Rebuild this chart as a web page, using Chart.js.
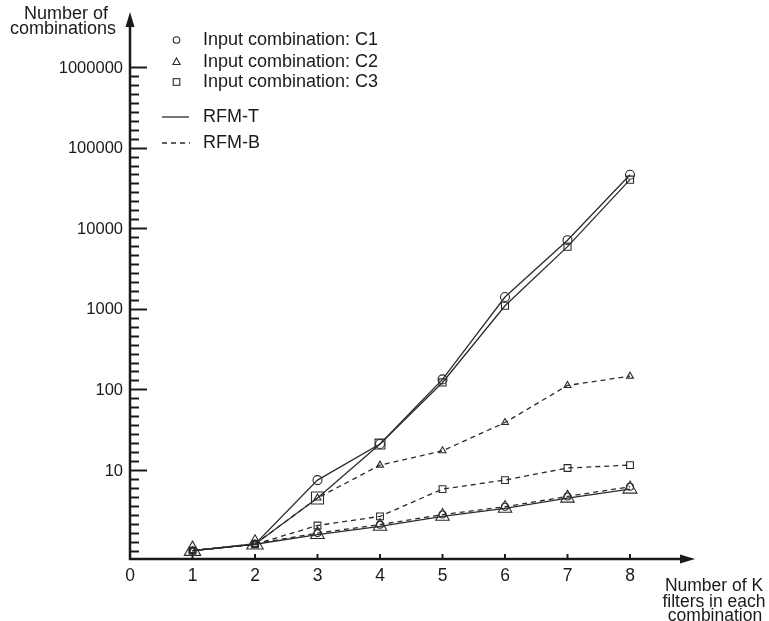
<!DOCTYPE html>
<html lang="en">
<head>
    <meta charset="UTF-8">
    <title>Number of combinations</title>
    <script src="https://cdn.jsdelivr.net/npm/chart.js"></script>
    <style>
        html, body { margin: 0; padding: 0; background: #fff; }
        #wrap { width: 769px; height: 621px; position: relative; }
    </style>
</head>
<body>
<div id="wrap"><canvas id="chart"></canvas></div>
<script>
    // data
    const kValues = [1, 2, 3, 4, 5, 6, 7, 8];
    const c1T = [1, 1.2, 7.5, 21, 133, 1400, 7100, 46000];
    const c2T = [1, 1.2, 1.58, 2.0, 2.66, 3.35, 4.47, 5.8];
    const c3T = [1, 1.2, 4.5, 21, 122, 1090, 5900, 40000];
    const c1B = [1, 1.22, 1.65, 2.1, 2.8, 3.5, 4.7, 6.2];
    const c2B = [1, 1.2, 4.5, 11.5, 17.3, 38.8, 112, 146];
    const c3B = [1, 1.2, 2.05, 2.66, 5.8, 7.5, 10.6, 11.5];

    const xTickLabels = ['0', '1', '2', '3', '4', '5', '6', '7', '8'];
    const yTickLabels = ['10', '100', '1000', '10000', '100000', '1000000'];
    const legendMarkers = ['Input combination: C1', 'Input combination: C2', 'Input combination: C3'];
    const legendLines = ['RFM-T', 'RFM-B'];

    const INK = '#2b2b2b';
    const FONT = '"Liberation Sans", Arial, sans-serif';

    function pts(arr) {
        return kValues.map((k, i) => ({ x: k, y: arr[i] }));
    }

    function series(label, arr, style, radius, dashed) {
        return {
            label: label,
            data: pts(arr),
            borderColor: INK,
            borderWidth: 1.3,
            borderDash: dashed ? [5, 4] : [],
            pointStyle: style,
            pointRadius: radius,
            pointBorderColor: INK,
            pointBorderWidth: 1.1,
            pointBackgroundColor: 'rgba(0,0,0,0)',
            fill: false,
            tension: 0
        };
    }

    const axesPlugin = {
        id: 'axes',
        beforeDatasetsDraw(chart) {
            const ctx = chart.ctx;
            const a = chart.chartArea;
            const x = chart.scales.x, y = chart.scales.y;
            const x0 = x.getPixelForValue(0);
            const yb = a.bottom;
            ctx.save();
            ctx.strokeStyle = '#1a1a1a';
            ctx.fillStyle = '#1a1a1a';

            // axis lines
            ctx.lineWidth = 2.5;
            ctx.beginPath();
            ctx.moveTo(x0, yb + 1);
            ctx.lineTo(x0, a.top + 12);
            ctx.moveTo(x0 - 1, yb);
            ctx.lineTo(a.right - 12, yb);
            ctx.stroke();

            // arrow heads
            ctx.beginPath();
            ctx.moveTo(x0, a.top);
            ctx.lineTo(x0 - 4.5, a.top + 15);
            ctx.lineTo(x0 + 4.5, a.top + 15);
            ctx.closePath();
            ctx.fill();
            ctx.beginPath();
            ctx.moveTo(a.right, yb);
            ctx.lineTo(a.right - 15, yb - 4.5);
            ctx.lineTo(a.right - 15, yb + 4.5);
            ctx.closePath();
            ctx.fill();

            // y ticks, evenly spaced 9 per decade
            ctx.lineWidth = 2;
            for (let k = 0; k <= 54; k++) {
                const py = Math.round(y.getPixelForValue(Math.pow(10, k / 9))) + 0.5;
                const major = k % 9 === 0 && k > 0;
                ctx.beginPath();
                ctx.moveTo(x0, py);
                ctx.lineTo(x0 + (major ? 17 : 9), py);
                ctx.stroke();
            }

            // x ticks
            for (let k = 1; k <= 8; k++) {
                const px = x.getPixelForValue(k);
                ctx.beginPath();
                ctx.moveTo(px, yb);
                ctx.lineTo(px, yb - 5);
                ctx.stroke();
            }

            // tick labels
            ctx.font = '16.5px ' + FONT;
            ctx.textBaseline = 'middle';
            ctx.textAlign = 'right';
            yTickLabels.forEach(t => {
                ctx.fillText(t, x0 - 7, y.getPixelForValue(Number(t)) + 1);
            });
            ctx.font = '17.5px ' + FONT;
            ctx.textAlign = 'center';
            xTickLabels.forEach(t => {
                ctx.fillText(t, x.getPixelForValue(Number(t)), yb + 17);
            });

            // axis titles
            ctx.font = '18px ' + FONT;
            ctx.fillText('Number of', 66, 14);
            ctx.fillText('combinations', 63, 29);
            ctx.font = '17.5px ' + FONT;
            ctx.fillText('Number of K', 714, 586);
            ctx.fillText('filters in each', 714, 602);
            ctx.fillText('combination', 715, 616);
            ctx.restore();
        },
        afterDraw(chart) {
            const ctx = chart.ctx;
            ctx.save();
            ctx.strokeStyle = INK;
            ctx.fillStyle = '#1a1a1a';
            ctx.lineWidth = 1.1;
            const mx = 176.5;
            const rows = [40, 62, 82];
            // circle
            ctx.beginPath();
            ctx.arc(mx, rows[0], 3.3, 0, Math.PI * 2);
            ctx.stroke();
            // triangle
            ctx.beginPath();
            ctx.moveTo(mx, rows[1] - 4);
            ctx.lineTo(mx + 3.6, rows[1] + 2.5);
            ctx.lineTo(mx - 3.6, rows[1] + 2.5);
            ctx.closePath();
            ctx.stroke();
            // square
            ctx.strokeRect(mx - 3.3, rows[2] - 3.3, 6.6, 6.6);

            ctx.font = '18px ' + FONT;
            ctx.textAlign = 'left';
            ctx.textBaseline = 'middle';
            legendMarkers.forEach((t, i) => ctx.fillText(t, 203, rows[i]));

            const lineRows = [117, 143];
            ctx.lineWidth = 1.3;
            ctx.beginPath();
            ctx.moveTo(162, lineRows[0]);
            ctx.lineTo(189, lineRows[0]);
            ctx.stroke();
            ctx.setLineDash([5, 4]);
            ctx.beginPath();
            ctx.moveTo(162, lineRows[1]);
            ctx.lineTo(190, lineRows[1]);
            ctx.stroke();
            ctx.setLineDash([]);
            legendLines.forEach((t, i) => ctx.fillText(t, 203, lineRows[i]));
            ctx.restore();
        }
    };

    new Chart(document.getElementById('chart'), {
        type: 'line',
        data: {
            datasets: [
                series('C2 RFM-T', c2T, 'triangle', [9.5, 9.5, 7.8, 7.8, 7.8, 7.8, 7.8, 8], false),
                series('C1 RFM-B', c1B, 'circle', 3.5, true),
                series('C3 RFM-B', c3B, 'rect', 4.8, true),
                series('C2 RFM-B', c2B, 'triangle', [4, 4, 4, 4, 4, 4, 4, 4], true),
                series('C3 RFM-T', c3T, 'rect', [3.5, 3.5, 8.5, 7, 5, 5, 5, 5], false),
                series('C1 RFM-T', c1T, 'circle', [3, 3, 4.5, 4.5, 4.5, 4.5, 4.5, 4.5], false)
            ]
        },
        options: {
            responsive: true,
            maintainAspectRatio: false,
            animation: false,
            layout: { padding: { left: 130, right: 74, top: 12, bottom: 62 } },
            plugins: { legend: { display: false }, tooltip: { enabled: false } },
            scales: {
                x: { type: 'linear', min: 0, max: 9.04, display: false },
                y: { type: 'logarithmic', min: 0.787, max: 4.81e6, display: false }
            }
        },
        plugins: [axesPlugin]
    });
</script>
</body>
</html>
